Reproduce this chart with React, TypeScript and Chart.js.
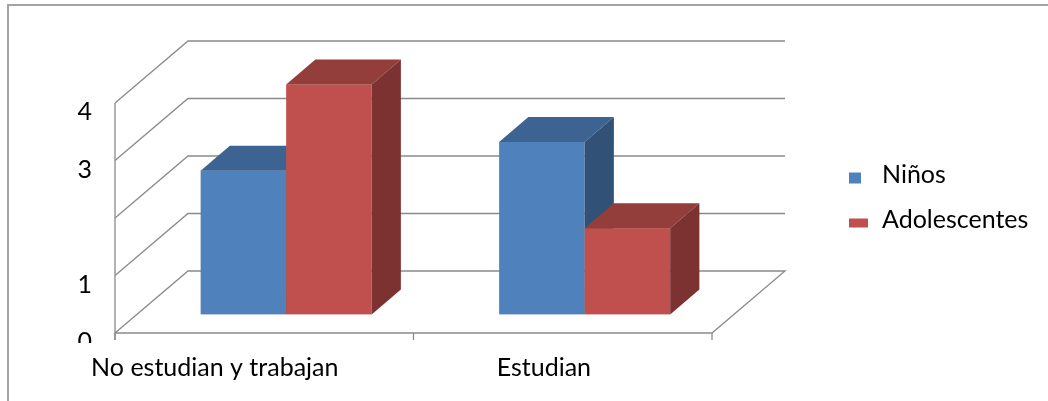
import React, { useEffect, useRef } from "react";
import { Chart, registerables } from "chart.js";

Chart.register(...registerables);

// Data
const categories = ["No estudian y trabajan", "Estudian"];
const seriesNames = ["Niños", "Adolescentes"];
const ninos = [2.5, 3];
const adolescentes = [4, 1.5];
// Value-axis labels indexed by value (the "2" label is left blank)
const yTickLabels = ["0", "1", "", "3", "4"];

// Styles
const FONT = "25px Lato";
const TEXT = "#000000";
const GRID = "#8a8a8a";
const FRONT = ["#4F81BD", "#C0504D"];
const TOP = ["#3D6392", "#943E3B"];
const SIDE = ["#325177", "#7B3230"];
const DEPTH_X = 73; // floor depth projection
const DEPTH_Y = 62;
const BAR_FRONT = 0.3; // bars start 30% into the floor
const BAR_DEPTH = 0.4; // and are 40% of it deep

const bar3d = {
  id: "bar3d",
  beforeDatasetsDraw(chart: any) {
    const { ctx, chartArea } = chart;
    const { left, right, top, bottom } = chartArea;
    const xs = chart.scales.x;
    const ys = chart.scales.y;

    ctx.save();
    // outer frame (top and left edges)
    ctx.strokeStyle = "#a3a3a3";
    ctx.lineWidth = 2;
    ctx.beginPath();
    ctx.moveTo(8, chart.height);
    ctx.lineTo(8, 5);
    ctx.lineTo(chart.width, 5);
    ctx.stroke();

    // walls and gridlines
    ctx.strokeStyle = GRID;
    ctx.lineWidth = 1.3;
    for (let v = 0; v < yTickLabels.length; v++) {
      const yf = ys.getPixelForValue(v);
      ctx.beginPath();
      ctx.moveTo(left, yf);
      ctx.lineTo(left + DEPTH_X, yf - DEPTH_Y);
      ctx.lineTo(right + DEPTH_X, yf - DEPTH_Y);
      if (v === 0) {
        ctx.lineTo(right, yf);
        ctx.lineTo(left, yf);
      }
      ctx.stroke();
    }
    // front value axis line
    ctx.beginPath();
    ctx.moveTo(left, top);
    ctx.lineTo(left, bottom + 7);
    ctx.stroke();
    // category tick marks
    const step =
      categories.length > 1 ? xs.getPixelForValue(1) - xs.getPixelForValue(0) : right - left;
    for (let i = 0; i <= categories.length; i++) {
      const x = xs.getPixelForValue(0) - step / 2 + i * step;
      ctx.beginPath();
      ctx.moveTo(x, bottom);
      ctx.lineTo(x, bottom + 7);
      ctx.stroke();
    }

    // 3D bars, painted left to right
    const ox = BAR_FRONT * DEPTH_X;
    const oy = BAR_FRONT * DEPTH_Y;
    const dx = BAR_DEPTH * DEPTH_X;
    const dy = BAR_DEPTH * DEPTH_Y;
    for (let i = 0; i < categories.length; i++) {
      chart.data.datasets.forEach((ds: any, d: number) => {
        const el = chart.getDatasetMeta(d).data[i];
        const p = el.getProps(["x", "y", "base", "width"], true);
        const l = p.x - p.width / 2 + ox;
        const r = p.x + p.width / 2 + ox;
        const t = p.y - oy;
        const b = p.base - oy;
        ctx.fillStyle = FRONT[d];
        ctx.fillRect(l, t, r - l, b - t);
        ctx.fillStyle = TOP[d];
        ctx.beginPath();
        ctx.moveTo(l, t);
        ctx.lineTo(l + dx, t - dy);
        ctx.lineTo(r + dx, t - dy);
        ctx.lineTo(r, t);
        ctx.closePath();
        ctx.fill();
        ctx.fillStyle = SIDE[d];
        ctx.beginPath();
        ctx.moveTo(r, t);
        ctx.lineTo(r + dx, t - dy);
        ctx.lineTo(r + dx, b - dy);
        ctx.lineTo(r, b);
        ctx.closePath();
        ctx.fill();
      });
    }
    ctx.restore();
    return false;
  },
  afterDraw(chart: any) {
    const { ctx, chartArea } = chart;
    const { left, right, bottom } = chartArea;
    const xs = chart.scales.x;
    const ys = chart.scales.y;
    ctx.save();
    ctx.font = FONT;
    ctx.fillStyle = TEXT;

    // value labels (clipped just below the floor)
    ctx.save();
    ctx.beginPath();
    ctx.rect(0, 0, left, bottom + 10);
    ctx.clip();
    ctx.textAlign = "right";
    ctx.textBaseline = "middle";
    yTickLabels.forEach((lab, v) => {
      if (lab) ctx.fillText(lab, left - 23, ys.getPixelForValue(v) + 9);
    });
    ctx.restore();

    // category labels, set slightly left of each category centre
    ctx.textAlign = "left";
    ctx.textBaseline = "alphabetic";
    categories.forEach((c, i) => {
      const w = ctx.measureText(c).width;
      ctx.fillText(c, xs.getPixelForValue(i) - 0.7 * w, bottom + 43);
    });

    // legend
    const lx = right + DEPTH_X + 64;
    const rows = [178, 223];
    const boxes = [
      [12, 11],
      [19, 9],
    ];
    chart.data.datasets.forEach((ds: any, d: number) => {
      const cy = rows[d];
      const [w, h] = boxes[d];
      ctx.fillStyle = FRONT[d];
      ctx.fillRect(lx, cy - h / 2, w, h);
      ctx.fillStyle = TEXT;
      ctx.fillText(ds.label, lx + 33, cy + 5);
    });
    ctx.restore();
  },
};

export default function App() {
  const ref = useRef<HTMLCanvasElement>(null);
  useEffect(() => {
    const chart = new Chart(ref.current!, {
      type: "bar",
      data: {
        labels: categories,
        datasets: [
          { label: seriesNames[0], data: ninos, backgroundColor: FRONT[0] },
          { label: seriesNames[1], data: adolescentes, backgroundColor: FRONT[1] },
        ],
      },
      options: {
        animation: false,
        responsive: true,
        maintainAspectRatio: false,
        layout: { padding: { left: 115, top: 103, right: 336, bottom: 68 } },
        plugins: { legend: { display: false }, tooltip: { enabled: false } },
        datasets: { bar: { categoryPercentage: 0.573, barPercentage: 1 } },
        scales: {
          x: { display: false, offset: true },
          y: { display: false, min: 0, max: 4, ticks: { stepSize: 1 } },
        },
      },
      plugins: [bar3d],
    });
    return () => chart.destroy();
  }, []);
  return (
    <div
      style={{
        position: "fixed",
        left: 0,
        top: 0,
        width: 1048,
        height: 401,
        background: "#ffffff",
      }}
    >
      <canvas ref={ref} />
    </div>
  );
}
